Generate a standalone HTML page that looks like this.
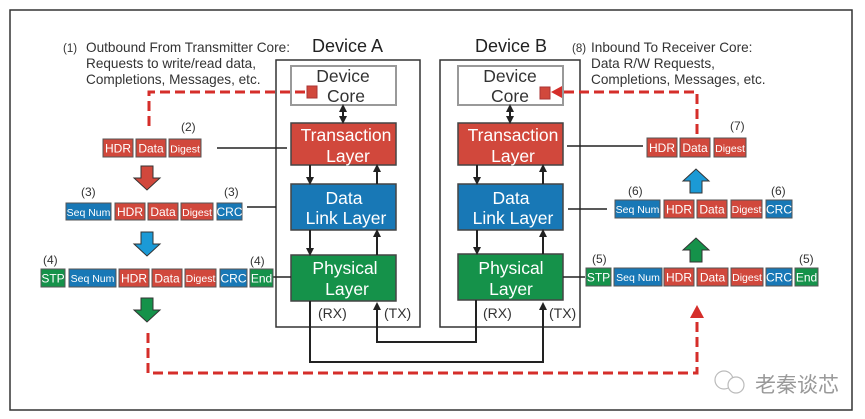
<!DOCTYPE html>
<html><head><meta charset="utf-8"><style>
html,body{margin:0;padding:0;background:#fff;}
svg{display:block;font-family:"Liberation Sans",Arial,sans-serif;}
</style></head><body>
<svg width="865" height="419" viewBox="0 0 865 419" xmlns="http://www.w3.org/2000/svg">
<defs>
<marker id="ah" markerWidth="8" markerHeight="8" refX="4" refY="4" orient="auto" markerUnits="userSpaceOnUse"><path d="M0,0 L8,4 L0,8 Z" fill="#222"/></marker>
</defs>
<rect x="10" y="10" width="842" height="400" fill="#fff" stroke="#333" stroke-width="1.5"/>
<g font-size="13.6" fill="#333">
<text x="63" y="52" font-size="11.5">(1)</text>
<text x="86" y="52">Outbound From Transmitter Core:</text>
<text x="86" y="68">Requests to write/read data,</text>
<text x="86" y="84">Completions, Messages, etc.</text>
<text x="572" y="52" font-size="11.5">(8)</text>
<text x="591" y="52">Inbound To Receiver Core:</text>
<text x="591" y="68">Data R/W Requests,</text>
<text x="591" y="84">Completions, Messages, etc.</text>
</g>
<text x="312" y="52" font-size="18" fill="#222">Device A</text>
<text x="475" y="52" font-size="18" fill="#222">Device B</text>
<rect x="276" y="60" width="144" height="267" fill="none" stroke="#333" stroke-width="1.5"/>
<rect x="440" y="60" width="140" height="267" fill="none" stroke="#333" stroke-width="1.5"/>
<g stroke="#444" stroke-width="1.5">
<rect x="291" y="66" width="105" height="39" fill="#fff" stroke="#999" stroke-width="2"/>
<rect x="458" y="66" width="105" height="39" fill="#fff" stroke="#999" stroke-width="2"/>
<rect x="291" y="123" width="105" height="42" fill="#d1483c"/>
<rect x="458" y="123" width="105" height="42" fill="#d1483c"/>
<rect x="291" y="184" width="105" height="46" fill="#1878b6"/>
<rect x="458" y="184" width="105" height="46" fill="#1878b6"/>
<rect x="291" y="255" width="105" height="46" fill="#15924a"/>
<rect x="458" y="254" width="105" height="46" fill="#15924a"/>
</g>
<g font-size="17.5" text-anchor="middle">
<text x="343" y="82" fill="#333">Device</text><text x="346" y="102" fill="#333">Core</text>
<text x="510" y="82" fill="#333">Device</text><text x="510" y="102" fill="#333">Core</text>
<g fill="#fff">
<text x="346" y="141">Transaction</text><text x="348" y="162">Layer</text>
<text x="513" y="141">Transaction</text><text x="513" y="162">Layer</text>
<text x="344" y="204">Data</text><text x="346" y="224">Link Layer</text>
<text x="511" y="204">Data</text><text x="513" y="224">Link Layer</text>
<text x="345" y="274">Physical</text><text x="347" y="295">Layer</text>
<text x="511" y="274">Physical</text><text x="511" y="295">Layer</text>
</g></g>
<g stroke="#222" stroke-width="2" marker-end="url(#ah)">
<line x1="310" y1="165" x2="310" y2="181"/><line x1="377" y1="184" x2="377" y2="168"/>
<line x1="310" y1="230" x2="310" y2="252"/><line x1="377" y1="255" x2="377" y2="233"/>
<line x1="477" y1="165" x2="477" y2="181"/><line x1="543" y1="184" x2="543" y2="168"/>
<line x1="477" y1="230" x2="477" y2="251"/><line x1="543" y1="254" x2="543" y2="233"/>
<line x1="343" y1="112" x2="343" y2="120"/><line x1="343" y1="116" x2="343" y2="108"/>
<line x1="510" y1="112" x2="510" y2="120"/><line x1="510" y1="116" x2="510" y2="108"/>
</g>
<g stroke="#222" stroke-width="2" fill="none">
<polyline points="310,301 310,362 543,362 543,306" marker-end="url(#ah)"/>
<polyline points="476,300 476,342 377,342 377,306" marker-end="url(#ah)"/>
</g>
<g font-size="14" fill="#333">
<text x="318" y="318">(RX)</text><text x="384" y="318">(TX)</text>
<text x="483" y="318">(RX)</text><text x="549" y="318">(TX)</text>
</g>
<g stroke="#222" stroke-width="1.5">
<line x1="217" y1="148" x2="287" y2="148"/>
<line x1="247" y1="207" x2="276" y2="207"/>
<line x1="273" y1="277" x2="291" y2="277"/>
<line x1="567" y1="146" x2="643" y2="146"/>
<line x1="568" y1="209" x2="607" y2="209"/>
<line x1="563" y1="277" x2="585" y2="277"/>
</g>
<g stroke="#d52e2a" stroke-width="3" fill="none" stroke-dasharray="10,5">
<polyline points="149,126 149,92 306,92"/>
<polyline points="697,134 697,92 556,92"/>
<polyline points="148,333 148,373 697,373 697,318"/>
</g>
<rect x="307" y="86" width="10" height="12" fill="#d1483c" stroke="#a33" stroke-width="1"/>
<rect x="540" y="87" width="10" height="12" fill="#d1483c" stroke="#a33" stroke-width="1"/>
<path d="M551,92 L562,86 L562,98 Z" fill="#d52e2a"/>
<path d="M697,305 L690,318 L704,318 Z" fill="#d52e2a"/>
<g stroke="#333" stroke-width="1">
<path d="M141,166 h12 v12 h7 l-13,12 l-13,-12 h7 z" fill="#d1483c"/>
<path d="M141,232 h12 v12 h7 l-13,12 l-13,-12 h7 z" fill="#1b9ad6"/>
<path d="M141,298 h12 v12 h7 l-13,12 l-13,-12 h7 z" fill="#15924a"/>
<path d="M690,193 h12 v-12 h7 l-13,-12 l-13,12 h7 z" fill="#1b9ad6"/>
<path d="M690,262 h12 v-12 h7 l-13,-12 l-13,12 h7 z" fill="#15924a"/>
</g>
<g stroke="#555" stroke-width="1">
<rect x="103" y="139" width="30" height="18" fill="#d1483c"/><rect x="136" y="139" width="30" height="18" fill="#d1483c"/><rect x="169" y="139" width="32" height="18" fill="#d1483c"/>
<rect x="66" y="203" width="45" height="17" fill="#1878b6"/><rect x="115" y="203" width="30" height="17" fill="#d1483c"/><rect x="148" y="203" width="30" height="17" fill="#d1483c"/><rect x="181" y="203" width="32" height="17" fill="#d1483c"/><rect x="217" y="203" width="25" height="17" fill="#1878b6"/>
<rect x="41" y="269" width="24" height="18" fill="#15924a"/><rect x="69" y="269" width="47" height="18" fill="#1878b6"/><rect x="119" y="269" width="30" height="18" fill="#d1483c"/><rect x="152" y="269" width="30" height="18" fill="#d1483c"/><rect x="185" y="269" width="31" height="18" fill="#d1483c"/><rect x="220" y="269" width="27" height="18" fill="#1878b6"/><rect x="250" y="269" width="23" height="18" fill="#15924a"/>
<rect x="647" y="138" width="30" height="19" fill="#d1483c"/><rect x="680" y="138" width="30" height="19" fill="#d1483c"/><rect x="714" y="138" width="32" height="19" fill="#d1483c"/>
<rect x="615" y="200" width="45" height="18" fill="#1878b6"/><rect x="664" y="200" width="30" height="18" fill="#d1483c"/><rect x="697" y="200" width="30" height="18" fill="#d1483c"/><rect x="731" y="200" width="31" height="18" fill="#d1483c"/><rect x="766" y="200" width="26" height="18" fill="#1878b6"/>
<rect x="586" y="268" width="25" height="18" fill="#15924a"/><rect x="614" y="268" width="48" height="18" fill="#1878b6"/><rect x="664" y="268" width="30" height="18" fill="#d1483c"/><rect x="697" y="268" width="31" height="18" fill="#d1483c"/><rect x="731" y="268" width="32" height="18" fill="#d1483c"/><rect x="766" y="268" width="26" height="18" fill="#1878b6"/><rect x="795" y="268" width="23" height="18" fill="#15924a"/>
</g>
<g fill="#fff" font-size="12" text-anchor="middle">
<text x="118" y="152.5">HDR</text><text x="151" y="152.5">Data</text><text x="185" y="152.5" font-size="10.5">Digest</text>
<text x="88.5" y="216" font-size="10.5">Seq Num</text><text x="130" y="216">HDR</text><text x="163" y="216">Data</text><text x="197" y="216" font-size="10.5">Digest</text><text x="229.5" y="216">CRC</text>
<text x="53" y="282.5">STP</text><text x="92.5" y="282" font-size="10.5">Seq Num</text><text x="134" y="282.5">HDR</text><text x="167" y="282.5">Data</text><text x="200.5" y="282" font-size="10.5">Digest</text><text x="233.5" y="282.5">CRC</text><text x="261.5" y="282.5">End</text>
<text x="662" y="152">HDR</text><text x="695" y="152">Data</text><text x="730" y="152" font-size="10.5">Digest</text>
<text x="637.5" y="213" font-size="10.5">Seq Num</text><text x="679" y="213.5">HDR</text><text x="712" y="213.5">Data</text><text x="746.5" y="213" font-size="10.5">Digest</text><text x="779" y="213.5">CRC</text>
<text x="598.5" y="281.5">STP</text><text x="638" y="281" font-size="10.5">Seq Num</text><text x="679" y="281.5">HDR</text><text x="712.5" y="281.5">Data</text><text x="747" y="281" font-size="10.5">Digest</text><text x="779" y="281.5">CRC</text><text x="806.5" y="281.5">End</text>
</g>
<g font-size="12" fill="#333">
<text x="181" y="131">(2)</text>
<text x="81" y="196">(3)</text><text x="224" y="196">(3)</text>
<text x="43" y="264">(4)</text><text x="250" y="265">(4)</text>
<text x="730" y="130">(7)</text>
<text x="628" y="195">(6)</text><text x="771" y="195">(6)</text>
<text x="592" y="263">(5)</text><text x="799" y="263">(5)</text>
</g>
<g stroke="#bbb" stroke-width="1.2" fill="none">
<circle cx="724" cy="380" r="9"/><circle cx="736" cy="385" r="8" fill="#fff"/>
</g>
<text x="755" y="392" font-size="21" fill="#999" font-family="'Liberation Sans','Noto Sans CJK SC',sans-serif">老秦谈芯</text>
</svg>
</body></html>
